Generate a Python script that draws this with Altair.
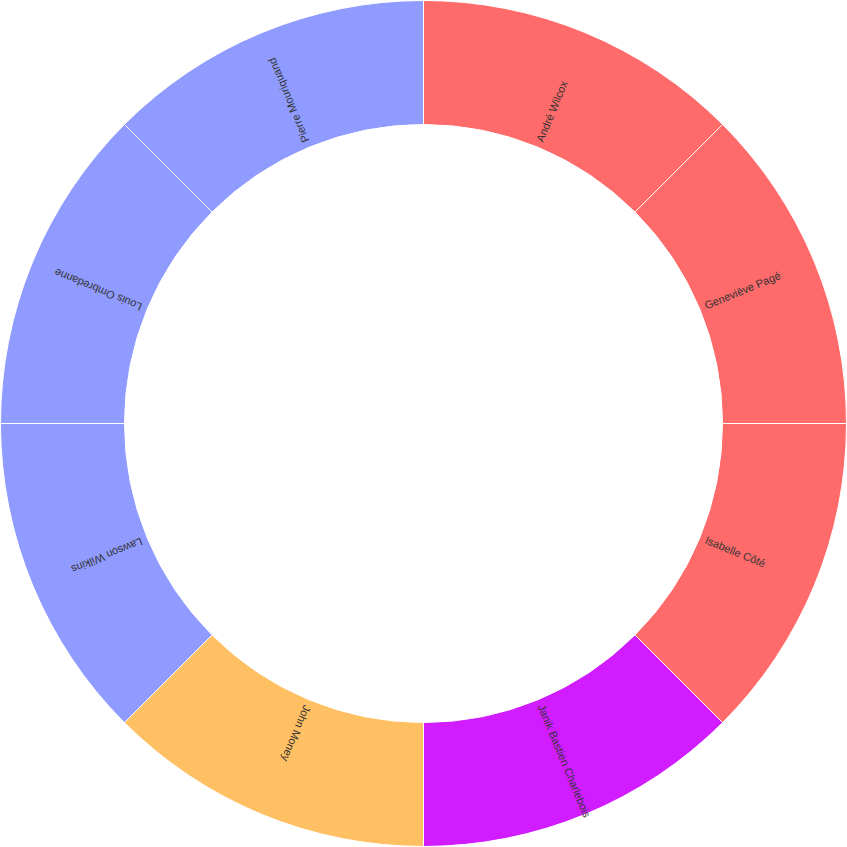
import altair as alt
import pandas as pd

names = ["André Wilcox", "Geneviève Pagé", "Isabelle Côté", "Janik Bastien Charlebois",
         "John Money", "Lawson Wilkins", "Louis Ombredanne", "Pierre Mouriquand"]
values = [1, 1, 1, 1, 1, 1, 1, 1]
colors = ["#FF6B6B", "#FF6B6B", "#FF6B6B", "#D11CFF",
          "#FFBF63", "#8F9BFF", "#8F9BFF", "#8F9BFF"]

n = len(names)
df = pd.DataFrame({"name": names, "value": values, "order": list(range(n))})
df["mid"] = [(i + 0.5) * 360.0 / n for i in range(n)]
df["angle"] = [((m - 90) % 360) for m in df["mid"]]

base = alt.Chart(df)

arcs = base.mark_arc(outerRadius=423, innerRadius=299, stroke="white", strokeWidth=1).encode(
    theta=alt.Theta("value:Q", stack=True),
    order=alt.Order("order:Q"),
    color=alt.Color("name:N", scale=alt.Scale(domain=names, range=colors), legend=None),
)

labels = base.mark_text(radius=305, align="left", baseline="middle", fontSize=11,
                        font="Liberation Sans", color="#333333").encode(
    theta=alt.Theta("value:Q", stack=True),
    order=alt.Order("order:Q"),
    text="name:N",
    angle=alt.Angle("angle:Q", scale=None),
)

chart = alt.layer(arcs, labels).properties(
    width=847, height=847, padding=0, autosize="none"
).configure_view(stroke=None)

chart.save("out.html", embed_options={"renderer": "svg", "actions": False})
